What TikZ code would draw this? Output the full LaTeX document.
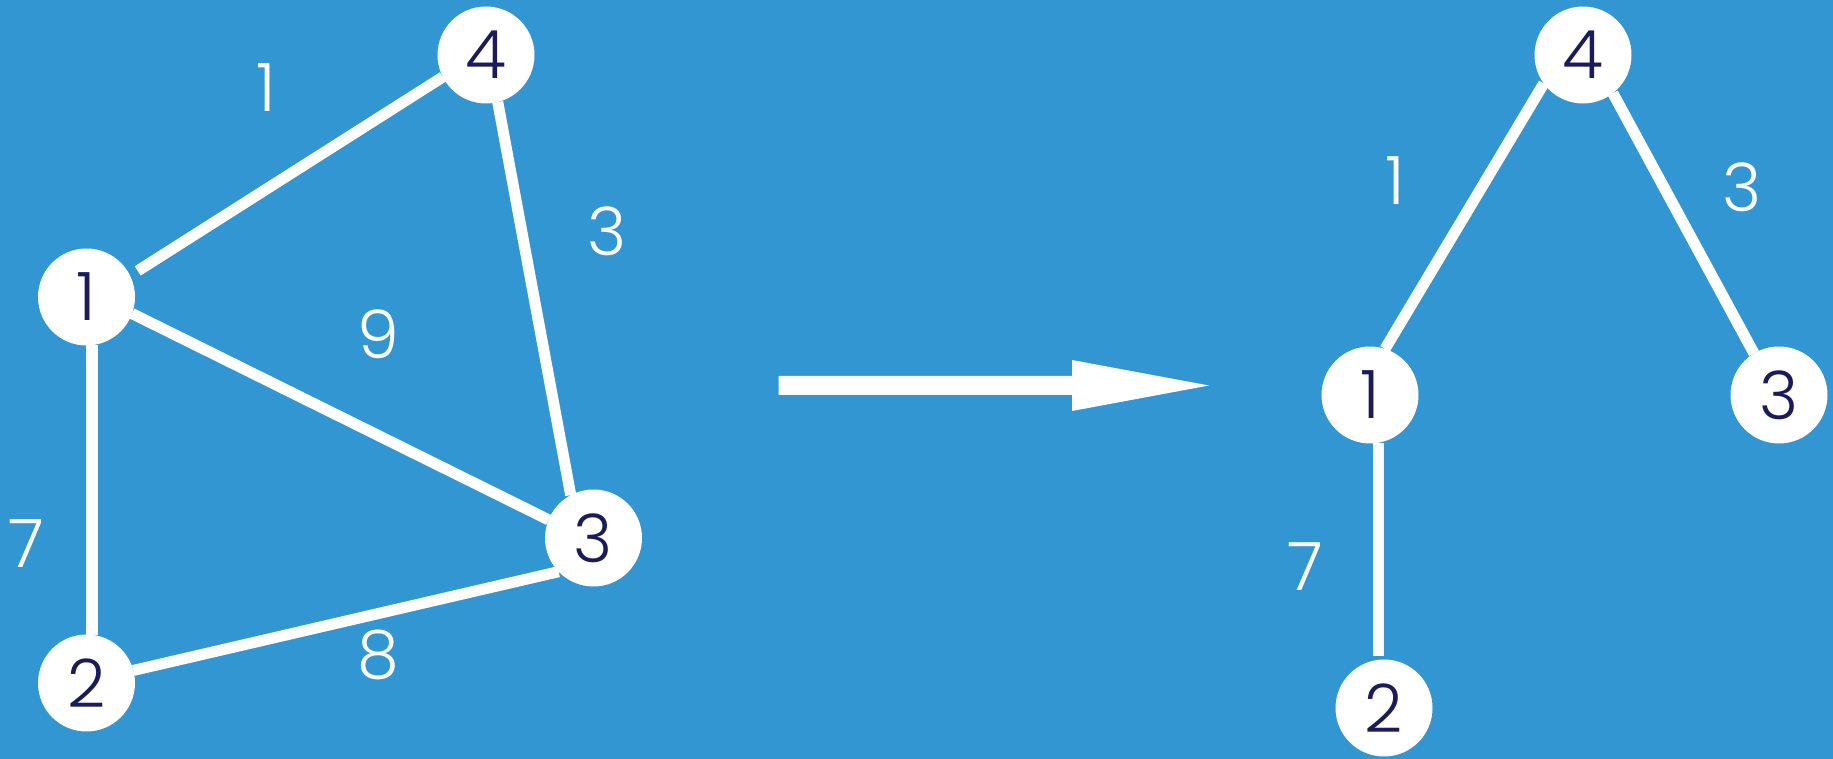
\documentclass[tikz,border=0pt]{standalone}
\usepackage{fontspec}
\setmainfont{Poppins}[UprightFont={* Light}]
\definecolor{bg}{HTML}{3196D2}
\definecolor{navy}{HTML}{1A1A5C}
\begin{document}
\begin{tikzpicture}[x=0.02cm,y=-0.02cm,
  vert/.style={circle,fill=white,minimum size=1.94cm,inner sep=0pt,outer sep=0pt,text=navy,font=\fontsize{38}{38}\selectfont},
  wlabel/.style={text=white,font=\fontsize{38}{38}\selectfont},
  edge/.style={draw=white,line width=6.3pt}]
\fill[bg] (0,0) rectangle (1833,759);
\useasboundingbox (0,0) rectangle (1833,759);
% left graph
\node[vert] (L4) at (486,55) {4};
\node[vert] (L1) at (86.5,297) {1};
\node[vert] (L2) at (86.5,683) {2};
\node[vert] (L3) at (593.5,538) {3};
\draw[edge] ([shift={(27:0.18cm)}]L1.27) -- (L4.207);
\draw[edge] (L4.284) -- (L3.118);
\draw[edge] (L1.340) -- (L3.158);
\draw[edge] (L2.15) -- (L3.224);
\draw[edge] ([xshift=0.11cm]L1.south) -- ([xshift=0.11cm]L2.north);
\node[wlabel] (l14) at (266.5,88) {1};
\node[wlabel] (l43) at (607,231) {3};
\node[wlabel] (l13) at (378,334) {9};
\node[wlabel] (l12) at (26,544) {7};
\node[wlabel] (l23) at (378,655) {8};
% arrow
\fill[white] (778.5,376) -- (1072,376) -- (1072,360) -- (1209,385.5) -- (1072,411) -- (1072,395) -- (778.5,395) -- cycle;
% right graph
\node[vert] (R4) at (1583,55) {4};
\node[vert] (R1) at (1370,395) {1};
\node[vert] (R3) at (1779,395) {3};
\node[vert] (R2) at (1384,708) {2};
\draw[edge] (R4.216) -- (R1.72);
\draw[edge] (R4.308) -- (R3.121);
\coordinate (Rtop) at ([xshift=0.17cm]R1.south);
\draw[edge] (Rtop) -- ([yshift=0.08cm]Rtop |- R2.north);
\node[wlabel] (r41) at (1395,181) {1};
\node[wlabel] (r43) at (1742,187) {3};
\node[wlabel] (r12) at (1305,567) {7};
\end{tikzpicture}
\end{document}
